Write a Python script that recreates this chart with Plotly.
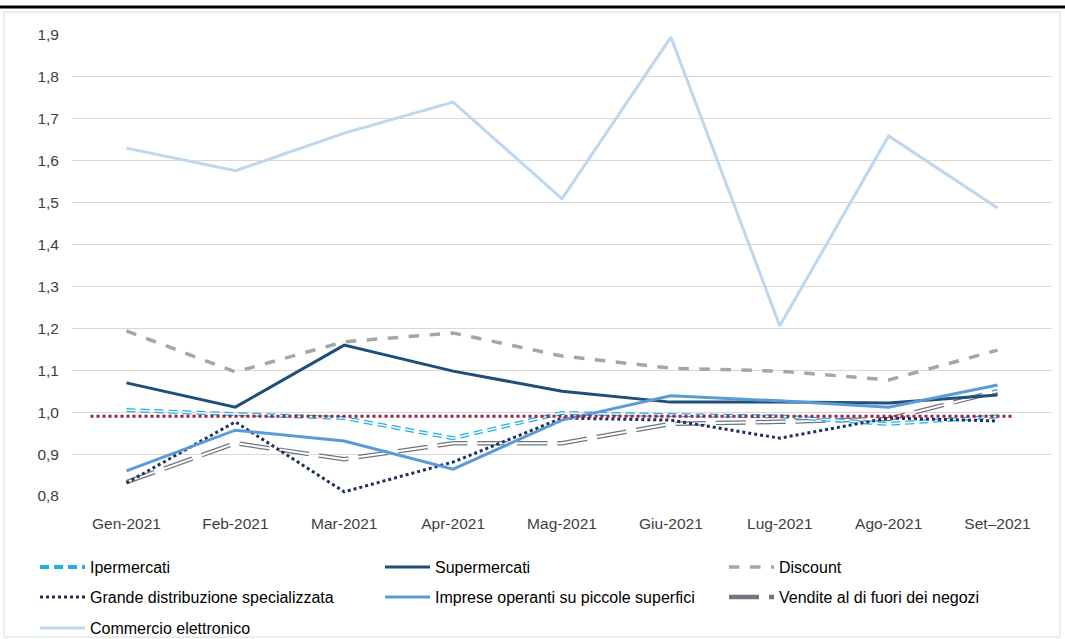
import plotly.graph_objects as go

months = ["Gen-2021", "Feb-2021", "Mar-2021", "Apr-2021", "Mag-2021",
          "Giu-2021", "Lug-2021", "Ago-2021", "Set\u20132021"]

ipermercati = [1.005, 0.996, 0.986, 0.938, 0.998, 0.993, 0.990, 0.972, 0.990]
supermercati = [1.070, 1.012, 1.160, 1.098, 1.050, 1.024, 1.024, 1.022, 1.041]
discount = [1.194, 1.096, 1.168, 1.189, 1.134, 1.105, 1.098, 1.077, 1.148]
grande_distr = [0.831, 0.977, 0.810, 0.881, 0.986, 0.981, 0.938, 0.986, 0.979]
piccole_sup = [0.860, 0.957, 0.931, 0.864, 0.981, 1.039, 1.027, 1.012, 1.065]
fuori_negozi = [0.833, 0.926, 0.888, 0.926, 0.926, 0.972, 0.977, 0.984, 1.050]
e_commerce = [1.630, 1.576, 1.666, 1.740, 1.509, 1.895, 1.206, 1.659, 1.487]
reference_level = 0.99

FONT = "Liberation Sans"
fig = go.Figure()

def add(name, y, color, width, dash, legend, outline=None):
    fig.add_trace(go.Scatter(x=months, y=y, name=name, mode="lines",
                             line=dict(color=color, width=width, dash=dash),
                             legend=legend))
    if outline:
        fig.add_trace(go.Scatter(x=months, y=y, name=name, mode="lines",
                                 line=dict(color="white", width=outline, dash=dash),
                                 showlegend=False, hoverinfo="skip"))

add("Commercio elettronico", e_commerce, "#BDD7EE", 3, "solid", "legend7")
add("Discount", discount, "#A6A6A6", 3.5, "dash", "legend3")
add("Vendite al di fuori dei negozi", fuori_negozi, "#6F7580", 4.5, "30px,10px", "legend6", outline=2)
add("Supermercati", supermercati, "#1F4E79", 3, "solid", "legend2")
add("Ipermercati", ipermercati, "#1FB0E8", 4, "9px,5px", "legend", outline=1.5)
add("Grande distribuzione specializzata", grande_distr, "#1F2F5F", 3, "dot", "legend4")
add("Imprese operanti su piccole superfici", piccole_sup, "#5B9BD5", 3, "solid", "legend5")

fig.add_shape(type="line", xref="x", yref="y", x0=-0.33, x1=8.14,
              y0=reference_level, y1=reference_level,
              line=dict(color="#A0203C", width=3, dash="dot"))

PW, PH, L, B = 980, 461, 72, 496
# frame
fig.add_shape(type="line", xref="paper", yref="paper", x0=-L/PW, x1=1 + 13/PW,
              y0=1 + 28/PH, y1=1 + 28/PH, line=dict(color="black", width=3))
fig.add_shape(type="rect", xref="paper", yref="paper", x0=-68/PW, x1=1 + 8/PW,
              y0=-141/PH, y1=1 + 23/PH, line=dict(color="#D9D9D9", width=1))

def leg(px, py):
    return dict(orientation="h", xanchor="left", x=(px - L) / PW, yanchor="middle",
                y=-(py - B) / PH, itemwidth=45,
                font=dict(family=FONT, size=16, color="#000000"),
                bgcolor="rgba(0,0,0,0)")

fig.update_layout(
    width=1065, height=639,
    margin=dict(l=L, r=13, t=35, b=143, autoexpand=False),
    paper_bgcolor="white", plot_bgcolor="white",
    separators=",.",
    font=dict(family=FONT, size=15, color="#404040"),
    xaxis=dict(type="category", showgrid=False, showline=False, ticks="",
               ticklabelstandoff=16,
               tickfont=dict(size=15.5, color="#404040"), range=[-0.5, 8.5]),
    yaxis=dict(range=[0.8, 1.9], dtick=0.1, tick0=0.8, tickformat=".1f",
               showgrid=True, gridcolor="#D9D9D9", gridwidth=1, zeroline=False,
               showline=False, ticks="", ticklabelstandoff=12,
               tickfont=dict(size=15.5, color="#404040")),
    legend=leg(35, 567),
    legend2=leg(380, 567),
    legend3=leg(724, 567),
    legend4=leg(35, 597),
    legend5=leg(380, 597),
    legend6=leg(724, 597),
    legend7=leg(35, 628),
    showlegend=True,
)

fig.write_html("out.html", config={"displayModeBar": False},
               post_script="document.body.style.margin='0';document.body.style.overflow='hidden';")
